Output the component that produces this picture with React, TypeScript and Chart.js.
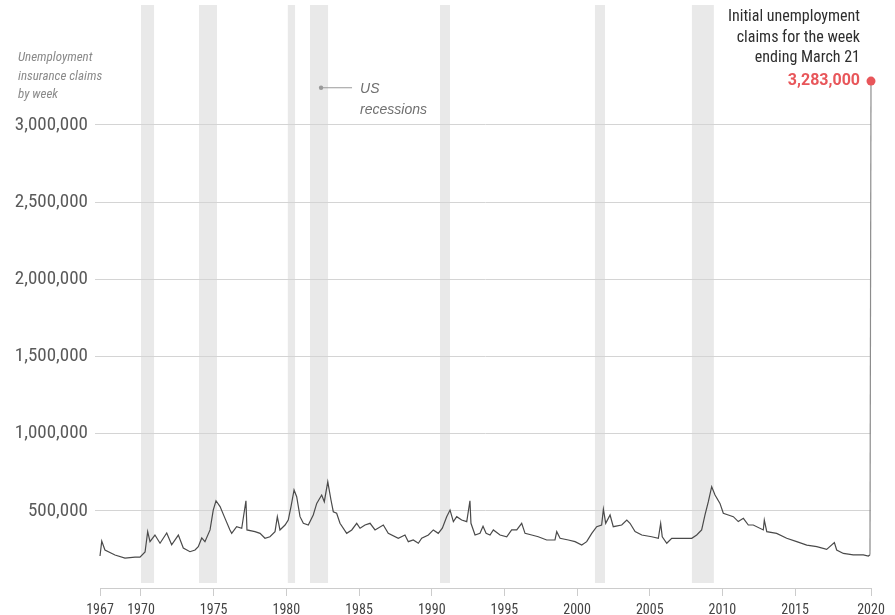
import React, { useEffect, useRef } from 'react';
import { Chart, registerables } from 'chart.js';

Chart.register(...registerables);

// Weekly initial unemployment insurance claims
const years = [
  1967.18, 1967.30, 1967.52, 1968.21, 1968.90, 1969.59, 1969.93, 1970.28, 1970.46, 1970.62,
  1970.96, 1971.31, 1971.77, 1972.11, 1972.57, 1972.91, 1973.37, 1973.72, 1973.94, 1974.18,
  1974.40, 1974.75, 1974.97, 1975.16, 1975.44, 1975.78, 1976.12, 1976.24, 1976.58, 1976.93,
  1977.22, 1977.29, 1977.84, 1978.19, 1978.53, 1978.87, 1979.22, 1979.38, 1979.56, 1979.91,
  1980.13, 1980.32, 1980.53, 1980.71, 1980.94, 1981.17, 1981.51, 1981.85, 1982.09, 1982.43,
  1982.61, 1982.85, 1983.07, 1983.23, 1983.46, 1983.69, 1984.15, 1984.50, 1984.84, 1985.07,
  1985.41, 1985.76, 1986.10, 1986.67, 1987.01, 1987.70, 1988.16, 1988.39, 1988.73, 1989.08,
  1989.31, 1989.77, 1990.11, 1990.45, 1990.73, 1991.03, 1991.26, 1991.49, 1991.72, 1992.06,
  1992.41, 1992.63, 1992.70, 1992.98, 1993.32, 1993.53, 1993.74, 1994.01, 1994.24, 1994.70,
  1995.16, 1995.50, 1995.85, 1996.19, 1996.42, 1996.88, 1997.33, 1997.91, 1998.48, 1998.60,
  1998.83, 1999.40, 1999.86, 2000.32, 2000.66, 2001.01, 2001.35, 2001.69, 2001.81, 2001.97,
  2002.27, 2002.49, 2003.07, 2003.42, 2003.64, 2003.99, 2004.45, 2005.13, 2005.59, 2005.75,
  2005.86, 2006.17, 2006.51, 2007.20, 2007.89, 2008.23, 2008.57, 2008.80, 2009.03, 2009.26,
  2009.49, 2009.83, 2010.06, 2010.40, 2010.75, 2011.09, 2011.44, 2011.78, 2012.12, 2012.81,
  2012.88, 2013.05, 2013.73, 2014.42, 2015.11, 2015.80, 2016.49, 2017.17, 2017.70, 2017.86,
  2018.32, 2019.00, 2019.69, 2020.04, 2020.15, 2020.22,
];
const claims = [
  207000, 304000, 246000, 214000, 194000, 200000, 200000, 233000, 365000, 300000,
  343000, 290000, 356000, 280000, 343000, 259000, 235000, 246000, 268000, 324000,
  300000, 376000, 505000, 565000, 527000, 451000, 376000, 354000, 397000, 387000,
  565000, 376000, 365000, 354000, 322000, 332000, 365000, 462000, 376000, 408000,
  440000, 527000, 635000, 591000, 462000, 419000, 408000, 473000, 548000, 602000,
  559000, 688000, 570000, 494000, 484000, 419000, 354000, 376000, 419000, 387000,
  408000, 419000, 376000, 408000, 354000, 322000, 343000, 300000, 311000, 290000,
  322000, 343000, 376000, 354000, 387000, 462000, 505000, 430000, 462000, 440000,
  430000, 565000, 419000, 343000, 354000, 400000, 354000, 343000, 376000, 343000,
  332000, 376000, 376000, 419000, 354000, 343000, 332000, 311000, 311000, 365000,
  322000, 311000, 300000, 278000, 300000, 354000, 397000, 408000, 510000, 419000,
  473000, 397000, 408000, 440000, 419000, 365000, 343000, 332000, 322000, 419000,
  332000, 290000, 322000, 322000, 322000, 343000, 376000, 473000, 559000, 656000,
  602000, 548000, 484000, 473000, 462000, 430000, 451000, 408000, 408000, 376000,
  440000, 365000, 354000, 322000, 300000, 278000, 268000, 250000, 294000, 246000,
  224000, 214000, 214000, 207000, 215000, 3283000,
];

// US recessions (start / end, decimal years)
const recessionStarts = [1970.0, 1973.99, 1980.1, 1981.63, 1990.57, 2001.23, 2007.9];
const recessionEnds = [1970.9, 1975.23, 1980.6, 1982.87, 1991.26, 2001.92, 2009.41];

const xTickValues = [1967.18, 1970, 1975, 1980, 1985, 1990, 1995, 2000, 2005, 2010, 2015, 2020.22];
const xTickLabels = ['1967', '1970', '1975', '1980', '1985', '1990', '1995', '2000', '2005', '2010', '2015', '2020'];
const yTickValues = [500000, 1000000, 1500000, 2000000, 2500000, 3000000];

const yAxisTitle = ['Unemployment', 'insurance claims', 'by week'];
const recessionLabel = ['US', 'recessions'];
const recessionLabelValue = 3240000;
const latestTitle = ['Initial unemployment', 'claims for the week', 'ending March 21'];
const latestLabel = '3,283,000';

const NARROW = '"Liberation Sans Narrow", "Arial Narrow", "Roboto Condensed", "Liberation Sans", sans-serif';
const RED = '#e8565a';

const annotationPlugin = {
  id: 'annotations',
  beforeDraw(chart: any) {
    const { ctx, chartArea, scales } = chart;
    const x = scales.x;
    ctx.save();
    ctx.fillStyle = '#e9e9e9';
    recessionStarts.forEach((s, i) => {
      const x0 = x.getPixelForValue(s);
      const x1 = x.getPixelForValue(recessionEnds[i]);
      ctx.fillRect(x0, chartArea.top, x1 - x0, chartArea.bottom - 5 - chartArea.top);
    });
    ctx.restore();
  },
  afterDraw(chart: any) {
    const { ctx, scales } = chart;
    const x = scales.x;
    const y = scales.y;
    ctx.save();

    // y-axis title
    ctx.fillStyle = '#8a8a8a';
    ctx.font = `italic 13px ${NARROW}`;
    ctx.textAlign = 'left';
    ctx.textBaseline = 'middle';
    yAxisTitle.forEach((t, i) => ctx.fillText(t, 18, 58 + i * 18.5));

    // US recessions label
    const bi = 3;
    const mx = x.getPixelForValue((recessionStarts[bi] + recessionEnds[bi]) / 2) + 2;
    const my = y.getPixelForValue(recessionLabelValue);
    ctx.strokeStyle = '#9a9a9a';
    ctx.lineWidth = 1;
    ctx.beginPath();
    ctx.moveTo(mx, my);
    ctx.lineTo(mx + 31, my);
    ctx.stroke();
    ctx.fillStyle = '#9a9a9a';
    ctx.beginPath();
    ctx.arc(mx, my, 2.2, 0, Math.PI * 2);
    ctx.fill();
    ctx.fillStyle = '#707070';
    ctx.font = `italic 14px "Liberation Sans", Arial, sans-serif`;
    ctx.textAlign = 'left';
    recessionLabel.forEach((t, i) => ctx.fillText(t, mx + 39, my + 1 + i * 21));

    // Latest value annotation
    const lx = x.getPixelForValue(years[years.length - 1]);
    const ly = y.getPixelForValue(claims[claims.length - 1]);
    ctx.textAlign = 'right';
    ctx.fillStyle = RED;
    ctx.font = `bold 16px Roboto, "Liberation Sans", sans-serif`;
    ctx.fillText(latestLabel, lx - 11, ly);
    ctx.fillStyle = '#2e2e2e';
    ctx.font = `16px ${NARROW}`;
    latestTitle.forEach((t, i) => ctx.fillText(t, lx - 11, ly - 64 + i * 20.5));
    ctx.restore();
  },
};

export default function App() {
  const canvasRef = useRef<HTMLCanvasElement | null>(null);

  useEffect(() => {
    if (!canvasRef.current) return;
    const last = years.length - 1;
    const chart = new Chart(canvasRef.current, {
      type: 'line',
      data: {
        datasets: [
          {
            data: years.map((yr, i) => ({ x: yr, y: claims[i] })),
            borderColor: '#4a4a4a',
            borderWidth: 1.2,
            tension: 0,
            clip: false,
            pointRadius: years.map((_, i) => (i === last ? 4.5 : 0)),
            pointBackgroundColor: RED,
            pointBorderWidth: 0,
            segment: {
              borderColor: (c: any) => (c.p1DataIndex === last ? '#8c8c8c' : undefined),
            },
          },
        ],
      },
      options: {
        animation: false,
        responsive: true,
        maintainAspectRatio: false,
        layout: { padding: { top: 5, right: 24, left: 0, bottom: 0 } },
        plugins: { legend: { display: false }, tooltip: { enabled: false } },
        scales: {
          x: {
            type: 'linear',
            min: xTickValues[0],
            max: xTickValues[xTickValues.length - 1],
            afterBuildTicks: (s: any) => {
              s.ticks = xTickValues.map((v) => ({ value: v }));
            },
            afterFit: (s: any) => {
              s.height = 27;
              s.paddingLeft = 0;
              s.paddingRight = 0;
            },
            grid: {
              drawOnChartArea: false,
              drawTicks: true,
              tickLength: 8,
              color: '#cccccc',
            },
            border: { display: true, color: '#cccccc' },
            ticks: {
              autoSkip: false,
              maxRotation: 0,
              padding: 6,
              color: '#444444',
              font: { family: NARROW, size: 14 },
              callback: (_v: any, i: number) => xTickLabels[i],
            },
          },
          y: {
            type: 'linear',
            min: 0,
            max: 3776000,
            afterBuildTicks: (s: any) => {
              s.ticks = yTickValues.map((v) => ({ value: v }));
            },
            afterFit: (s: any) => {
              s.width = 100;
              s.paddingTop = 0;
              s.paddingBottom = 0;
            },
            grid: {
              drawTicks: true,
              tickLength: 5,
              color: '#d4d4d4',
            },
            border: { display: false },
            ticks: {
              padding: 7,
              color: '#5a5a5a',
              font: { family: NARROW, size: 19 },
              callback: (v: any) => Number(v).toLocaleString('en-US'),
            },
          },
        },
      },
      plugins: [annotationPlugin],
    });
    return () => chart.destroy();
  }, []);

  return (
    <div style={{ position: 'absolute', left: 0, top: 0, width: 895, height: 615, background: '#fff' }}>
      <canvas ref={canvasRef} />
    </div>
  );
}
